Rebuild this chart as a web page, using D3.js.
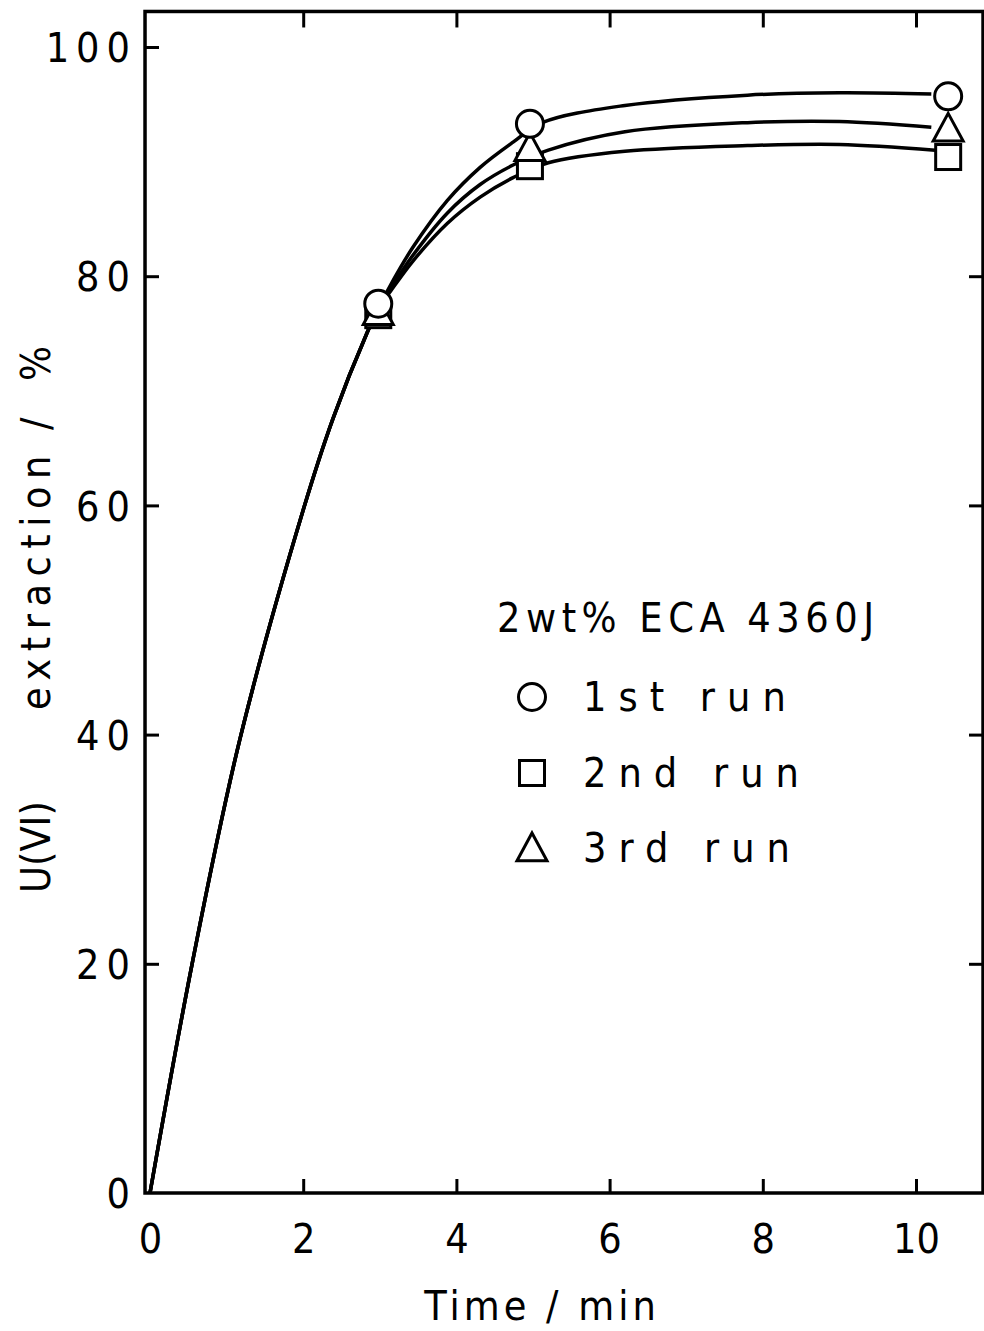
<!DOCTYPE html>
<html>
<head>
<meta charset="utf-8">
<script src="https://cdn.jsdelivr.net/npm/d3@7"></script>
<style>
  html, body { margin: 0; padding: 0; background: #fff; }
  svg { display: block; }
  text { font-family: "DejaVu Sans", sans-serif; font-stretch: condensed; fill: #000; }
</style>
</head>
<body>
<svg id="chart" width="984" height="1331"></svg>
<script>
// ---- data ----
const xTicks = [0, 2, 4, 6, 8, 10];
const yTicks = [0, 20, 40, 60, 80, 100];
const xTitle = "Time / min";
const yTitleParts = ["U(VI)", "extraction", "/", "%"];
const legendTitle = "2wt% ECA 4360J";
const seriesNames = ["1st run", "2nd run", "3rd run"];
const seriesShapes = ["circle", "square", "triangle"];

// measured points
const run1Time = [2.98, 4.96, 10.42];
const run1Value = [77.6, 93.3, 95.7];
const run2Time = [2.98, 4.96, 10.42];
const run2Value = [76.6, 89.6, 90.4];
const run3Time = [2.98, 4.96, 10.42];
const run3Value = [76.9, 91.2, 92.9];

// fitted curves (time, value)
const riseTime = [0, 0.55, 1.17, 2.0, 2.39, 2.83, 3.0];
const riseValue = [0, 20, 39.5, 59.6, 67.6, 75.0, 77.4];
const tail1Time = [3.13, 3.43, 3.88, 4.31, 4.74, 5.12, 6.2, 7.8, 9.0, 10.2];
const tail1Value = [79.1, 82.5, 86.6, 89.5, 91.7, 93.4, 94.9, 95.8, 96.0, 95.9];
const tail2Time = [3.13, 3.43, 3.88, 4.31, 4.74, 5.2, 6.2, 7.8, 9.0, 10.25];
const tail2Value = [78.6, 81.3, 84.6, 86.9, 88.6, 89.9, 90.9, 91.4, 91.5, 91.0];
const tail3Time = [3.13, 3.43, 3.88, 4.31, 4.74, 5.2, 6.2, 7.8, 9.0, 10.2];
const tail3Value = [78.8, 81.8, 85.5, 88.0, 89.7, 91.0, 92.6, 93.4, 93.5, 93.0];

// ---- layout ----
const svg = d3.select("#chart");
const x = d3.scaleLinear().domain([0, 10]).range([150, 916]);
const y = d3.scaleLinear().domain([0, 100]).range([1193, 47]);
const frameX = [-0.065, 10.875];
const frameY = [0, 103.1];
const FONT = 41;

const fx0 = x(frameX[0]), fx1 = x(frameX[1]), fy0 = y(frameY[0]), fy1 = y(frameY[1]);

// frame
svg.append("rect")
  .attr("x", fx0).attr("y", fy1)
  .attr("width", fx1 - fx0).attr("height", fy0 - fy1)
  .attr("fill", "none").attr("stroke", "#000").attr("stroke-width", 3.5);

// axes
function styleAxis(g) {
  g.select(".domain").remove();
  g.selectAll(".tick line").attr("stroke", "#000").attr("stroke-width", 3);
}
const gB = svg.append("g").attr("transform", `translate(0,${fy0})`)
  .call(d3.axisBottom(x).tickValues(xTicks).tickSize(-14).tickPadding(31).tickFormat(d3.format("d")))
  .call(styleAxis);
gB.selectAll(".tick text").attr("font-size", FONT).attr("font-family", null);
gB.selectAll(".tick").filter(d => d === 0).select("line").remove();

svg.append("g").attr("transform", `translate(0,${fy1})`)
  .call(d3.axisTop(x).tickValues(xTicks.filter(d => d > 0)).tickSize(-16).tickFormat(""))
  .call(styleAxis);

const gL = svg.append("g").attr("transform", `translate(${fx0},0)`)
  .call(d3.axisLeft(y).tickValues(yTicks).tickSize(-14).tickPadding(8).tickFormat(d3.format("d")))
  .call(styleAxis);
gL.selectAll(".tick text").attr("font-size", FONT).attr("font-family", null)
  .attr("letter-spacing", 7).attr("dy", "0.36em");
gL.selectAll(".tick").filter(d => d === 0).select("line").remove();

svg.append("g").attr("transform", `translate(${fx1},0)`)
  .call(d3.axisRight(y).tickValues(yTicks.filter(d => d > 0 && d < 100)).tickSize(-14).tickFormat(""))
  .call(styleAxis);

// axis titles
svg.append("text")
  .attr("x", 542).attr("y", 1320)
  .attr("text-anchor", "middle")
  .attr("font-size", FONT).attr("letter-spacing", 4)
  .text(xTitle);

// y title: pieces placed along the rotated baseline (start positions in page y)
const yTitleStart = [893, 710, 430, 381];
const yTitleSpacing = [0, 7.5, 0, 0];
yTitleParts.forEach((s, i) => {
  svg.append("text")
    .attr("transform", `translate(50,${yTitleStart[i]}) rotate(-90)`)
    .attr("text-anchor", "start")
    .attr("font-size", FONT).attr("letter-spacing", yTitleSpacing[i])
    .text(s);
});

// curves
const line = d3.line().x(d => x(d[0])).y(d => y(d[1])).curve(d3.curveCatmullRom.alpha(0.5));
const rise = riseTime.map((t, i) => [t, riseValue[i]]);
const tails = [
  tail1Time.map((t, i) => [t, tail1Value[i]]),
  tail2Time.map((t, i) => [t, tail2Value[i]]),
  tail3Time.map((t, i) => [t, tail3Value[i]])
];
tails.forEach(tl => {
  svg.append("path")
    .attr("d", line(rise.concat(tl)))
    .attr("fill", "none").attr("stroke", "#000").attr("stroke-width", 3.5);
});

// markers
function drawMarker(g, shape, cx, cy) {
  if (shape === "circle") {
    g.append("circle").attr("cx", cx).attr("cy", cy).attr("r", 13.5)
      .attr("fill", "#fff").attr("stroke", "#000").attr("stroke-width", 3);
  } else if (shape === "square") {
    g.append("rect").attr("x", cx - 12.5).attr("y", cy - 12.5).attr("width", 25).attr("height", 25)
      .attr("fill", "#fff").attr("stroke", "#000").attr("stroke-width", 3);
  } else {
    const s = 15;
    g.append("path")
      .attr("d", `M${cx},${cy - s}L${cx + s},${cy + s * 0.85}L${cx - s},${cy + s * 0.85}Z`)
      .attr("fill", "#fff").attr("stroke", "#000").attr("stroke-width", 3).attr("stroke-linejoin", "miter");
  }
}
const runs = [
  { shape: "square", t: run2Time, v: run2Value },
  { shape: "triangle", t: run3Time, v: run3Value },
  { shape: "circle", t: run1Time, v: run1Value }
];
const gm = svg.append("g");
runs.forEach(r => r.t.forEach((t, i) => drawMarker(gm, r.shape, x(t), y(r.v[i]))));

// legend
svg.append("text")
  .attr("x", 497).attr("y", 632)
  .attr("font-size", FONT).attr("letter-spacing", 5.5)
  .text(legendTitle);
const legY = [697, 773, 848];
seriesNames.forEach((name, i) => {
  drawMarker(svg, seriesShapes[i], 532, legY[i]);
  svg.append("text")
    .attr("x", 583).attr("y", legY[i] + 14)
    .attr("font-size", FONT).attr("letter-spacing", 12)
    .style("white-space", "pre")
    .text(name);
});
</script>
</body>
</html>
